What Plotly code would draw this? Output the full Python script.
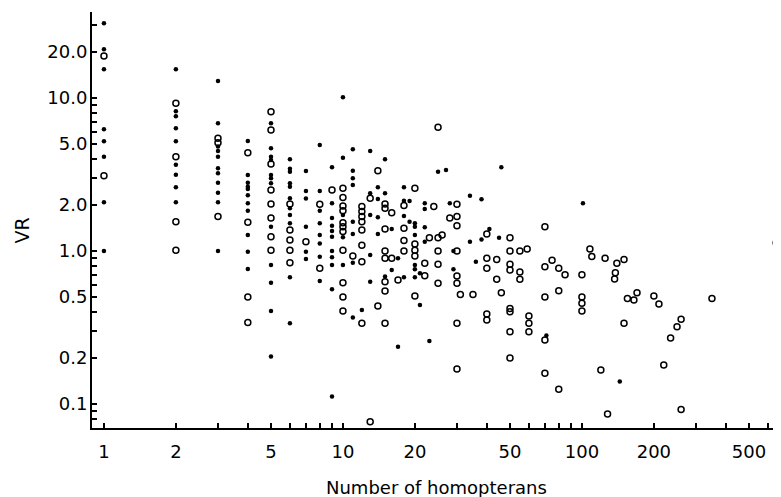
import plotly.graph_objects as go

# ---- data: filled dots ----
dot_n = [1]*8 + [2]*9 + [3]*11 + [4]*11 + [5]*12 + [6]*11 + [7]*6 + [8]*8 + [9]*11 + \
        [10]*5 + [11]*8 + [12] + [13]*5 + [14]*4 + [15]*3 + [16]*2 + [17]*2 + [18]*4 + \
        [19]*2 + [20]*6 + [21]*2 + [22]*4 + [23, 25, 27, 28, 29, 29, 34, 34, 36, 38, 38,
                                              41, 45, 46, 71, 101, 144]
dot_vr = [30.8, 20.8, 15.4, 6.24, 5.21, 4.13, 2.08, 1.0,
          15.4, 8.2, 7.6, 6.34, 5.21, 3.66, 3.15, 2.61, 2.08,
          12.9, 6.83, 4.81, 4.50, 4.13, 3.47, 3.22, 2.79, 2.40, 2.08, 1.0,
          5.23, 3.14, 2.79, 2.63, 2.54, 2.31, 2.05, 1.83, 1.27, 0.99, 0.762,
          6.83, 4.69, 4.13, 3.93, 3.14, 2.99, 2.77, 1.44, 0.81, 0.62, 0.405, 0.204,
          3.97, 3.45, 3.30, 2.77, 2.63, 2.21, 1.90, 1.72, 1.52, 0.673, 0.337,
          3.33, 2.47, 2.20, 1.44, 0.99, 0.887,
          4.93, 2.47, 1.83, 1.52, 1.27, 1.12, 0.918, 0.637,
          3.52, 2.05, 1.64, 1.46, 1.35, 1.24, 1.0, 0.91, 0.81, 0.562, 0.112,
          10.1, 4.07, 1.72, 1.23, 0.81,
          4.62, 3.35, 2.99, 2.70, 1.55, 1.29, 0.839, 0.368,
          0.412,
          4.50, 2.38, 1.72, 0.94, 0.63,
          2.61, 2.19, 1.66, 1.29,
          3.97, 2.38, 0.68,
          1.39, 0.75,
          0.896, 0.237,
          2.61, 2.13, 1.69, 0.673,
          2.12, 1.55,
          1.52, 1.44, 1.27, 0.81, 0.76, 0.673,
          0.715, 0.443,
          2.05, 1.88, 1.43, 1.15,
          0.258, 3.30, 3.38, 2.05, 1.0, 0.76, 2.30, 1.15, 0.85, 2.18, 1.19,
          1.39, 1.22, 3.52, 0.28, 2.05, 0.14]

# ---- data: open circles ----
open_n = [1]*2 + [2]*4 + [3]*3 + [4]*4 + [5]*8 + [6]*5 + [7] + [8]*2 + [9] + [10]*11 + \
         [11] + [12]*8 + [13]*2 + [14]*2 + [15]*8 + [16]*2 + [17] + [18]*4 + [20]*5 + \
         [22]*2 + [23, 24] + [25]*5 + [26, 28] + [30]*8 + [31, 35] + [40]*5 + [44]*2 + \
         [46] + [50]*8 + [55]*3 + [59] + [60]*3 + [70]*5 + [75] + [80]*3 + [85] + \
         [100]*4 + [108, 110, 120, 125, 128, 137, 138, 140, 150, 150, 155, 165, 170,
                    200, 210, 220, 235, 250, 260, 260, 350, 650]
open_vr = [18.8, 3.10,
           9.23, 4.13, 1.55, 1.01,
           5.45, 5.10, 1.68,
           4.39, 1.54, 0.50, 0.341,
           8.13, 6.18, 3.70, 2.50, 2.03, 1.64, 1.24, 1.01,
           2.03, 1.37, 1.18, 1.01, 0.839,
           1.15,
           2.02, 0.771,
           2.50,
           2.57, 2.24, 1.97, 1.83, 1.53, 1.44, 1.34, 1.01, 0.62, 0.50, 0.405,
           0.928,
           1.95, 1.81, 1.68, 1.55, 1.37, 1.09, 0.85, 0.337,
           2.21, 0.0764,
           3.35, 0.437,
           2.03, 1.90, 1.39, 1.0, 0.896, 0.63, 0.548, 0.337,
           1.78, 0.896,
           0.646,
           1.98, 1.41, 1.17, 1.0,
           2.57, 1.11, 1.01, 0.928, 0.508,
           0.831, 0.69,
           1.22, 1.95,
           6.43, 1.22, 1.0, 0.818, 0.615,
           1.27, 1.64,
           2.02, 1.68, 1.46, 1.0, 0.686, 0.615, 0.337, 0.169,
           0.52, 0.52,
           1.29, 0.896, 0.771, 0.388, 0.354,
           0.88, 0.654,
           0.534,
           1.22, 1.0, 0.82, 0.75, 0.42, 0.40, 0.297, 0.2,
           1.0, 0.73, 0.654,
           1.03,
           0.376, 0.337, 0.297,
           1.44, 0.79, 0.5, 0.262, 0.159,
           0.87,
           0.77, 0.55, 0.125,
           0.70,
           0.70, 0.5, 0.455, 0.405,
           1.03, 0.92, 0.167, 0.896, 0.086, 0.656, 0.72, 0.83, 0.88, 0.337, 0.49, 0.479, 0.534,
           0.508, 0.45, 0.18, 0.27, 0.32, 0.358, 0.092, 0.49, 1.13]

# ---- ticks ----
x_tickvals = [1, 2, 5, 10, 20, 50, 100, 200, 500]
x_ticktext = ["1", "2", "5", "10", "20", "50", "100", "200", "500"]
x_minor = [3, 4, 6, 7, 8, 9, 30, 40, 60, 70, 80, 90, 300, 400, 600]
y_tickvals = [0.1, 0.2, 0.5, 1, 2, 5, 10, 20]
y_ticktext = ["0.1", "0.2", "0.5", "1.0", "2.0", "5.0", "10.0", "20.0"]
y_minor = [0.08, 0.09, 0.3, 0.4, 0.6, 0.7, 0.8, 0.9, 3, 4, 6, 7, 8, 9, 30]

FONT = "DejaVu Sans, Liberation Sans, Arial, sans-serif"

fig = go.Figure()
fig.add_trace(go.Scatter(x=open_n, y=open_vr, mode="markers", cliponaxis=False,
                         marker=dict(symbol="circle-open", size=6, color="black",
                                     line=dict(width=1.5, color="black")),
                         showlegend=False, hoverinfo="skip"))
fig.add_trace(go.Scatter(x=dot_n, y=dot_vr, mode="markers", cliponaxis=False,
                         marker=dict(symbol="circle", size=4.5, color="black"),
                         showlegend=False, hoverinfo="skip"))

axis_common = dict(showgrid=False, zeroline=False, showline=True, linecolor="black",
                   linewidth=2, ticks="inside", ticklen=5, tickwidth=1.5,
                   tickcolor="black", automargin=False,
                   tickfont=dict(family=FONT, size=18, color="black"))

fig.update_xaxes(type="log", range=[-0.050, 2.833], tickmode="array",
                 tickvals=x_tickvals, ticktext=x_ticktext,
                 minor=dict(tickmode="array", tickvals=x_minor, ticks="inside",
                            ticklen=5, tickwidth=1.5, tickcolor="black", showgrid=False),
                 ticklabelstandoff=6, **axis_common)
fig.update_yaxes(type="log", range=[-1.157, 1.562], tickmode="array",
                 tickvals=y_tickvals, ticktext=y_ticktext,
                 minor=dict(tickmode="array", tickvals=y_minor, ticks="inside",
                            ticklen=5, tickwidth=1.5, tickcolor="black", showgrid=False),
                 ticklabelstandoff=-1, **axis_common)

fig.add_annotation(text="Number of homopterans", xref="paper", yref="paper",
                   x=0.4993, y=-0.1442, xanchor="center", yanchor="middle", showarrow=False,
                   font=dict(family=FONT, size=18, color="black"))
fig.add_annotation(text="VR", xref="paper", yref="paper", textangle=-90,
                   x=-0.1009, y=0.476, xanchor="center", yanchor="middle", showarrow=False,
                   font=dict(family=FONT, size=19, color="black"))

# page body has an 8px default margin; size the figure so the plot area lands
# at the same place as in the reference (x 92..781, y 12..428)
fig.update_layout(width=773, height=489, margin=dict(l=84, r=0, t=4, b=69),
                  paper_bgcolor="white", plot_bgcolor="white")

fig.write_html("out.html",
               post_script="document.documentElement.style.overflow='hidden';"
                           "document.body.style.overflow='hidden';")
